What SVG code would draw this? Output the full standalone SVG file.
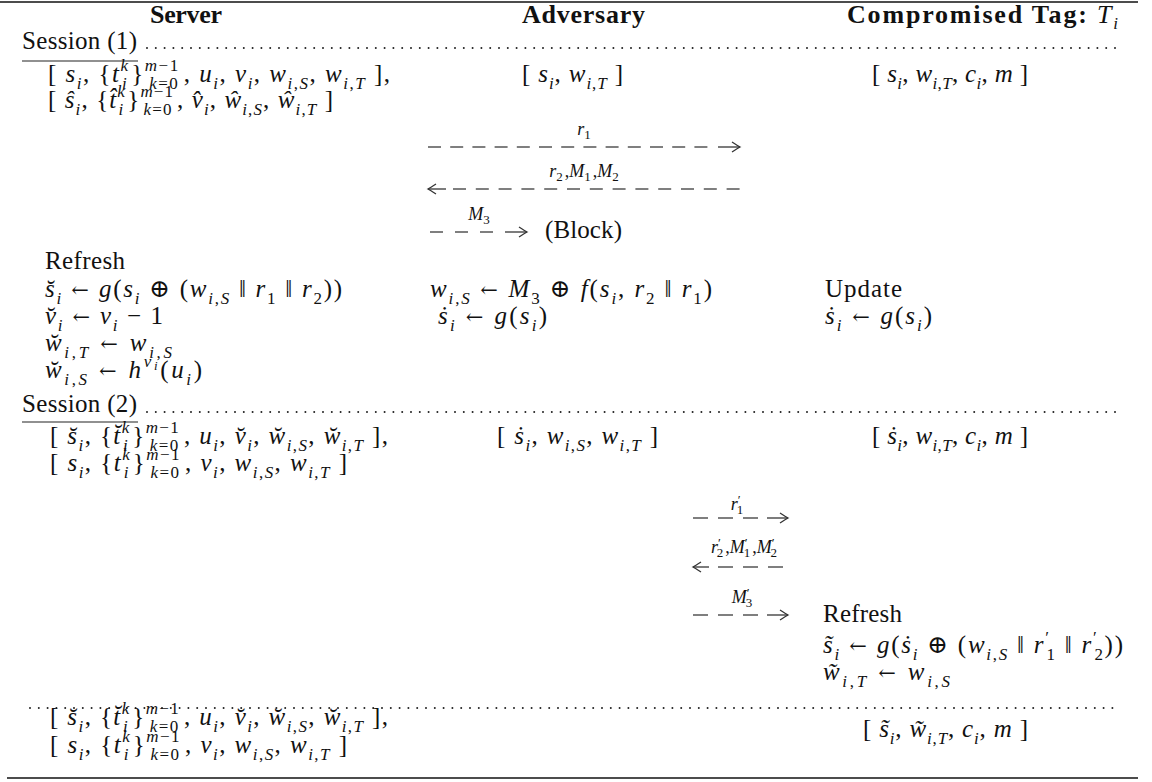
<svg xmlns="http://www.w3.org/2000/svg" width="1152" height="782" viewBox="0 0 1152 782">
<defs>
<style>
.t{font-family:"Liberation Serif","DejaVu Serif",serif;font-size:25px;fill:#111}
.h{font-family:"Liberation Serif","DejaVu Serif",serif;font-size:26px;font-weight:bold;fill:#111}
.lb{font-family:"Liberation Serif","DejaVu Serif",serif;font-size:18px;fill:#111;text-anchor:middle}
.i{font-style:italic}
.n{font-weight:normal}
.s{font-size:17px}
.si{font-size:17px;font-style:italic}
.ss{font-size:13px;font-style:italic}
.l2{font-size:13px}
.ar{font-family:"DejaVu Serif",serif;font-size:21px;font-style:normal}
.pl{font-family:"Liberation Serif","DejaVu Serif",serif;font-style:normal}
.rule{stroke:#111;stroke-width:1.4}
.ul{stroke:#222;stroke-width:1.2}
.dots{stroke:#222;stroke-width:2;stroke-dasharray:0 8.8;stroke-linecap:round;fill:none}
.dash{stroke:#555;stroke-width:1.7;fill:none}
.shaft{stroke:#444;stroke-width:1.4;fill:none}
</style>
<marker id="ah" viewBox="-10 -6 12 12" refX="0" refY="0" markerWidth="12" markerHeight="12" markerUnits="userSpaceOnUse" orient="auto"><path d="M-8,-5 Q-2,-1 0,0 Q-2,1 -8,5" fill="none" stroke="#333" stroke-width="1.3"/></marker>
</defs>
<rect width="1152" height="782" fill="#fff"/>
<g id="rules">
<line class="rule" x1="0" y1="2" x2="1138" y2="2"/>
<line class="rule" x1="7" y1="778" x2="1138" y2="778"/>
</g>
<g id="headers">
<text class="h" x="150" y="23" textLength="72">Server</text>
<text class="h" x="522" y="23" textLength="123">Adversary</text>
<text class="h" x="847" y="23" textLength="271">Compromised Tag: <tspan class="i n">T</tspan><tspan class="si n" dy="6">i</tspan></text>
</g>
<g id="session1">
<text class="t" x="22" y="49" textLength="115">Session (1)</text>
<line class="ul" x1="22" y1="61" x2="138" y2="61"/>
<line class="dots" x1="147" y1="48" x2="1118" y2="48"/>
</g>
<g id="server-s1">
<text class="t" x="48" y="82" textLength="342">[ <tspan class="i">s</tspan><tspan class="si" dy="7">i</tspan><tspan dy="-7">, {</tspan><tspan class="i">t</tspan><tspan class="si" dy="-11">k</tspan><tspan class="si" dx="-7.5" dy="18">i</tspan><tspan dx="3" dy="-7">}</tspan><tspan class="si" dy="-11">m</tspan><tspan class="s">−1</tspan><tspan class="si" dx="-30.5" dy="18">k</tspan><tspan class="s">=0</tspan><tspan dx="4.5" dy="-7">, </tspan><tspan class="i">u</tspan><tspan class="si" dy="7">i</tspan><tspan dy="-7">, </tspan><tspan class="i">v</tspan><tspan class="si" dy="7">i</tspan><tspan dy="-7">, </tspan><tspan class="i">w</tspan><tspan class="si" dy="7">i</tspan><tspan class="s">,</tspan><tspan class="si">S</tspan><tspan dy="-7">, </tspan><tspan class="i">w</tspan><tspan class="si" dy="7">i</tspan><tspan class="s">,</tspan><tspan class="si">T</tspan><tspan dy="-7"> ],</tspan></text>
<text class="t" x="48" y="108" textLength="285">[ <tspan class="i">ŝ</tspan><tspan class="si" dy="7">i</tspan><tspan dy="-7">, {</tspan><tspan class="i">t̂</tspan><tspan class="si" dy="-11">k</tspan><tspan class="si" dx="-7.5" dy="18">i</tspan><tspan dx="3" dy="-7">}</tspan><tspan class="si" dy="-11">m</tspan><tspan class="s">−1</tspan><tspan class="si" dx="-30.5" dy="18">k</tspan><tspan class="s">=0</tspan><tspan dx="4.5" dy="-7">, </tspan><tspan class="i">v̂</tspan><tspan class="si" dy="7">i</tspan><tspan dy="-7">, </tspan><tspan class="i">ŵ</tspan><tspan class="si" dy="7">i</tspan><tspan class="s">,</tspan><tspan class="si">S</tspan><tspan dy="-7">, </tspan><tspan class="i">ŵ</tspan><tspan class="si" dy="7">i</tspan><tspan class="s">,</tspan><tspan class="si">T</tspan><tspan dy="-7"> ]</tspan></text>
</g>
<g id="adversary-s1">
<text class="t" x="522" y="82" textLength="101">[ <tspan class="i">s</tspan><tspan class="si" dy="7">i</tspan><tspan dy="-7">, </tspan><tspan class="i">w</tspan><tspan class="si" dy="7">i</tspan><tspan class="s">,</tspan><tspan class="si">T</tspan><tspan dy="-7"> ]</tspan></text>
</g>
<g id="tag-s1">
<text class="t" x="872" y="82" textLength="156">[ <tspan class="i">s</tspan><tspan class="si" dy="7">i</tspan><tspan dy="-7">, </tspan><tspan class="i">w</tspan><tspan class="si" dy="7">i</tspan><tspan class="s">,</tspan><tspan class="si">T</tspan><tspan dy="-7">, </tspan><tspan class="i">c</tspan><tspan class="si" dy="7">i</tspan><tspan dy="-7">, </tspan><tspan class="i">m</tspan><tspan> ]</tspan></text>
</g>
<g id="labels-s1">
<text class="lb" x="584" y="135"><tspan class="i">r</tspan><tspan class="l2" dy="4">1</tspan></text>
<text class="lb" x="584" y="177"><tspan class="i">r</tspan><tspan class="l2" dy="4">2</tspan><tspan dx="2" dy="-4">,</tspan><tspan class="i">M</tspan><tspan class="l2" dy="4">1</tspan><tspan dx="2" dy="-4">,</tspan><tspan class="i">M</tspan><tspan class="l2" dy="4">2</tspan></text>
<text class="lb" x="479" y="220"><tspan class="i">M</tspan><tspan class="l2" dy="4">3</tspan></text>
<text class="t" x="545" y="238" textLength="77">(Block)</text>
</g>
<g id="server-refresh">
<text class="t" x="45" y="269" textLength="80">Refresh</text>
<text class="t" x="45" y="297" textLength="297"><tspan class="i">s̆</tspan><tspan class="si" dy="7">i</tspan><tspan class="ar" dy="-7"> ← </tspan><tspan class="i">g</tspan><tspan>(</tspan><tspan class="i">s</tspan><tspan class="si" dy="7">i</tspan><tspan dy="-7"> ⊕ (</tspan><tspan class="i">w</tspan><tspan class="si" dy="7">i</tspan><tspan class="s">,</tspan><tspan class="si">S</tspan><tspan class="pl" dy="-7"> ǁ </tspan><tspan class="i">r</tspan><tspan class="s" dy="7">1</tspan><tspan class="pl" dy="-7"> ǁ </tspan><tspan class="i">r</tspan><tspan class="s" dy="7">2</tspan><tspan dy="-7">))</tspan></text>
<text class="t" x="45" y="324" textLength="118"><tspan class="i">v̆</tspan><tspan class="si" dy="7">i</tspan><tspan class="ar" dy="-7"> ← </tspan><tspan class="i">v</tspan><tspan class="si" dy="7">i</tspan><tspan dy="-7"> − 1</tspan></text>
<text class="t" x="45" y="351" textLength="127"><tspan class="i">w̆</tspan><tspan class="si" dy="7">i</tspan><tspan class="s">,</tspan><tspan class="si">T</tspan><tspan class="ar" dy="-7"> ← </tspan><tspan class="i">w</tspan><tspan class="si" dy="7">i</tspan><tspan class="s">,</tspan><tspan class="si">S</tspan></text>
<text class="t" x="45" y="378" textLength="157"><tspan class="i">w̆</tspan><tspan class="si" dy="7">i</tspan><tspan class="s">,</tspan><tspan class="si">S</tspan><tspan class="ar" dy="-7"> ← </tspan><tspan class="i">h</tspan><tspan class="si" dy="-11">v</tspan><tspan class="ss" dy="3">i</tspan><tspan dy="8">(</tspan><tspan class="i">u</tspan><tspan class="si" dy="7">i</tspan><tspan dy="-7">)</tspan></text>
</g>
<g id="adversary-update">
<text class="t" x="430" y="297" textLength="282"><tspan class="i">w</tspan><tspan class="si" dy="7">i</tspan><tspan class="s">,</tspan><tspan class="si">S</tspan><tspan class="ar" dy="-7"> ← </tspan><tspan class="i">M</tspan><tspan class="s" dy="7">3</tspan><tspan dy="-7"> ⊕ </tspan><tspan class="i">f</tspan><tspan>(</tspan><tspan class="i">s</tspan><tspan class="si" dy="7">i</tspan><tspan dy="-7">, </tspan><tspan class="i">r</tspan><tspan class="s" dy="7">2</tspan><tspan class="pl" dy="-7"> ǁ </tspan><tspan class="i">r</tspan><tspan class="s" dy="7">1</tspan><tspan dy="-7">)</tspan></text>
<text class="t" x="438" y="324" textLength="109"><tspan class="i">ṡ</tspan><tspan class="si" dy="7">i</tspan><tspan class="ar" dy="-7"> ← </tspan><tspan class="i">g</tspan><tspan>(</tspan><tspan class="i">s</tspan><tspan class="si" dy="7">i</tspan><tspan dy="-7">)</tspan></text>
</g>
<g id="tag-update">
<text class="t" x="825" y="297" textLength="77">Update</text>
<text class="t" x="825" y="324" textLength="107"><tspan class="i">ṡ</tspan><tspan class="si" dy="7">i</tspan><tspan class="ar" dy="-7"> ← </tspan><tspan class="i">g</tspan><tspan>(</tspan><tspan class="i">s</tspan><tspan class="si" dy="7">i</tspan><tspan dy="-7">)</tspan></text>
</g>
<g id="session2">
<text class="t" x="22" y="412" textLength="115">Session (2)</text>
<line class="ul" x1="22" y1="422" x2="138" y2="422"/>
<line class="dots" x1="147" y1="412" x2="1118" y2="412"/>
</g>
<g id="server-s2">
<text class="t" x="50" y="444" textLength="338">[ <tspan class="i">s̆</tspan><tspan class="si" dy="7">i</tspan><tspan dy="-7">, {</tspan><tspan class="i">t̆</tspan><tspan class="si" dy="-11">k</tspan><tspan class="si" dx="-7.5" dy="18">i</tspan><tspan dx="3" dy="-7">}</tspan><tspan class="si" dy="-11">m</tspan><tspan class="s">−1</tspan><tspan class="si" dx="-30.5" dy="18">k</tspan><tspan class="s">=0</tspan><tspan dx="4.5" dy="-7">, </tspan><tspan class="i">u</tspan><tspan class="si" dy="7">i</tspan><tspan dy="-7">, </tspan><tspan class="i">v̆</tspan><tspan class="si" dy="7">i</tspan><tspan dy="-7">, </tspan><tspan class="i">w̆</tspan><tspan class="si" dy="7">i</tspan><tspan class="s">,</tspan><tspan class="si">S</tspan><tspan dy="-7">, </tspan><tspan class="i">w̆</tspan><tspan class="si" dy="7">i</tspan><tspan class="s">,</tspan><tspan class="si">T</tspan><tspan dy="-7"> ],</tspan></text>
<text class="t" x="50" y="471" textLength="297">[ <tspan class="i">s</tspan><tspan class="si" dy="7">i</tspan><tspan dy="-7">, {</tspan><tspan class="i">t</tspan><tspan class="si" dy="-11">k</tspan><tspan class="si" dx="-7.5" dy="18">i</tspan><tspan dx="3" dy="-7">}</tspan><tspan class="si" dy="-11">m</tspan><tspan class="s">−1</tspan><tspan class="si" dx="-30.5" dy="18">k</tspan><tspan class="s">=0</tspan><tspan dx="4.5" dy="-7">, </tspan><tspan class="i">v</tspan><tspan class="si" dy="7">i</tspan><tspan dy="-7">, </tspan><tspan class="i">w</tspan><tspan class="si" dy="7">i</tspan><tspan class="s">,</tspan><tspan class="si">S</tspan><tspan dy="-7">, </tspan><tspan class="i">w</tspan><tspan class="si" dy="7">i</tspan><tspan class="s">,</tspan><tspan class="si">T</tspan><tspan dy="-7"> ]</tspan></text>
</g>
<g id="adversary-s2">
<text class="t" x="497" y="444" textLength="161">[ <tspan class="i">ṡ</tspan><tspan class="si" dy="7">i</tspan><tspan dy="-7">, </tspan><tspan class="i">w</tspan><tspan class="si" dy="7">i</tspan><tspan class="s">,</tspan><tspan class="si">S</tspan><tspan dy="-7">, </tspan><tspan class="i">w</tspan><tspan class="si" dy="7">i</tspan><tspan class="s">,</tspan><tspan class="si">T</tspan><tspan dy="-7"> ]</tspan></text>
</g>
<g id="tag-s2">
<text class="t" x="872" y="444" textLength="156">[ <tspan class="i">ṡ</tspan><tspan class="si" dy="7">i</tspan><tspan dy="-7">, </tspan><tspan class="i">w</tspan><tspan class="si" dy="7">i</tspan><tspan class="s">,</tspan><tspan class="si">T</tspan><tspan dy="-7">, </tspan><tspan class="i">c</tspan><tspan class="si" dy="7">i</tspan><tspan dy="-7">, </tspan><tspan class="i">m</tspan><tspan> ]</tspan></text>
</g>
<g id="labels-s2">
<text class="lb" x="737" y="510"><tspan class="i">r</tspan><tspan class="l2" dy="-6">′</tspan><tspan class="l2" dx="-4" dy="10">1</tspan></text>
<text class="lb" x="744" y="553"><tspan class="i">r</tspan><tspan class="l2" dy="-6">′</tspan><tspan class="l2" dx="-4" dy="10">2</tspan><tspan dx="2" dy="-4">,</tspan><tspan class="i">M</tspan><tspan class="l2" dy="-6">′</tspan><tspan class="l2" dx="-4" dy="10">1</tspan><tspan dx="2" dy="-4">,</tspan><tspan class="i">M</tspan><tspan class="l2" dy="-6">′</tspan><tspan class="l2" dx="-4" dy="10">2</tspan></text>
<text class="lb" x="742" y="603"><tspan class="i">M</tspan><tspan class="l2" dy="-6">′</tspan><tspan class="l2" dx="-4" dy="10">3</tspan></text>
</g>
<g id="tag-refresh">
<text class="t" x="823" y="622" textLength="79">Refresh</text>
<text class="t" x="823" y="653" textLength="300"><tspan class="i">s̃</tspan><tspan class="si" dy="7">i</tspan><tspan class="ar" dy="-7"> ← </tspan><tspan class="i">g</tspan><tspan>(</tspan><tspan class="i">ṡ</tspan><tspan class="si" dy="7">i</tspan><tspan dy="-7"> ⊕ (</tspan><tspan class="i">w</tspan><tspan class="si" dy="7">i</tspan><tspan class="s">,</tspan><tspan class="si">S</tspan><tspan class="pl" dy="-7"> ǁ </tspan><tspan class="i">r</tspan><tspan class="s" dy="-10">′</tspan><tspan class="s" dx="-4" dy="17">1</tspan><tspan class="pl" dy="-7"> ǁ </tspan><tspan class="i">r</tspan><tspan class="s" dy="-10">′</tspan><tspan class="s" dx="-4" dy="17">2</tspan><tspan dy="-7">))</tspan></text>
<text class="t" x="823" y="680" textLength="127"><tspan class="i">w̃</tspan><tspan class="si" dy="7">i</tspan><tspan class="s">,</tspan><tspan class="si">T</tspan><tspan class="ar" dy="-7"> ← </tspan><tspan class="i">w</tspan><tspan class="si" dy="7">i</tspan><tspan class="s">,</tspan><tspan class="si">S</tspan></text>
</g>
<g id="final">
<line class="dots" x1="30" y1="708" x2="1113" y2="708"/>
</g>
<g id="server-final">
<text class="t" x="50" y="725" textLength="338">[ <tspan class="i">s̆</tspan><tspan class="si" dy="7">i</tspan><tspan dy="-7">, {</tspan><tspan class="i">t̆</tspan><tspan class="si" dy="-11">k</tspan><tspan class="si" dx="-7.5" dy="18">i</tspan><tspan dx="3" dy="-7">}</tspan><tspan class="si" dy="-11">m</tspan><tspan class="s">−1</tspan><tspan class="si" dx="-30.5" dy="18">k</tspan><tspan class="s">=0</tspan><tspan dx="4.5" dy="-7">, </tspan><tspan class="i">u</tspan><tspan class="si" dy="7">i</tspan><tspan dy="-7">, </tspan><tspan class="i">v̆</tspan><tspan class="si" dy="7">i</tspan><tspan dy="-7">, </tspan><tspan class="i">w̆</tspan><tspan class="si" dy="7">i</tspan><tspan class="s">,</tspan><tspan class="si">S</tspan><tspan dy="-7">, </tspan><tspan class="i">w̆</tspan><tspan class="si" dy="7">i</tspan><tspan class="s">,</tspan><tspan class="si">T</tspan><tspan dy="-7"> ],</tspan></text>
<text class="t" x="50" y="753" textLength="297">[ <tspan class="i">s</tspan><tspan class="si" dy="7">i</tspan><tspan dy="-7">, {</tspan><tspan class="i">t</tspan><tspan class="si" dy="-11">k</tspan><tspan class="si" dx="-7.5" dy="18">i</tspan><tspan dx="3" dy="-7">}</tspan><tspan class="si" dy="-11">m</tspan><tspan class="s">−1</tspan><tspan class="si" dx="-30.5" dy="18">k</tspan><tspan class="s">=0</tspan><tspan dx="4.5" dy="-7">, </tspan><tspan class="i">v</tspan><tspan class="si" dy="7">i</tspan><tspan dy="-7">, </tspan><tspan class="i">w</tspan><tspan class="si" dy="7">i</tspan><tspan class="s">,</tspan><tspan class="si">S</tspan><tspan dy="-7">, </tspan><tspan class="i">w</tspan><tspan class="si" dy="7">i</tspan><tspan class="s">,</tspan><tspan class="si">T</tspan><tspan dy="-7"> ]</tspan></text>
</g>
<g id="tag-final">
<text class="t" x="863" y="737" textLength="165">[ <tspan class="i">s̃</tspan><tspan class="si" dy="7">i</tspan><tspan dy="-7">, </tspan><tspan class="i">w̃</tspan><tspan class="si" dy="7">i</tspan><tspan class="s">,</tspan><tspan class="si">T</tspan><tspan dy="-7">, </tspan><tspan class="i">c</tspan><tspan class="si" dy="7">i</tspan><tspan dy="-7">, </tspan><tspan class="i">m</tspan><tspan> ]</tspan></text>
</g>
<g id="connectors">
<g id="msg-r1"><line class="dash" x1="428" y1="147" x2="707.5" y2="147" stroke-dasharray="13 9.2"/><line class="shaft" x1="718" y1="147" x2="740" y2="147" marker-end="url(#ah)"/></g>
<g id="msg-r2"><line class="shaft" x1="446" y1="189" x2="428" y2="189" marker-end="url(#ah)"/><line class="dash" x1="453" y1="189" x2="740" y2="189" stroke-dasharray="13 9.8"/></g>
<g id="msg-m3"><line class="dash" x1="430" y1="232" x2="493" y2="232" stroke-dasharray="13 12"/><line class="shaft" x1="505" y1="232" x2="527" y2="232" marker-end="url(#ah)"/></g>
<g id="msg-r1p"><line class="dash" x1="693" y1="518" x2="758" y2="518" stroke-dasharray="15 10"/><line class="shaft" x1="767" y1="518" x2="788" y2="518" marker-end="url(#ah)"/></g>
<g id="msg-r2p"><line class="shaft" x1="709" y1="567" x2="693" y2="567" marker-end="url(#ah)"/><line class="dash" x1="718" y1="567" x2="788" y2="567" stroke-dasharray="15 10"/></g>
<g id="msg-m3p"><line class="dash" x1="693" y1="615" x2="758" y2="615" stroke-dasharray="15 10"/><line class="shaft" x1="767" y1="615" x2="788" y2="615" marker-end="url(#ah)"/></g>
</g>
</svg>
